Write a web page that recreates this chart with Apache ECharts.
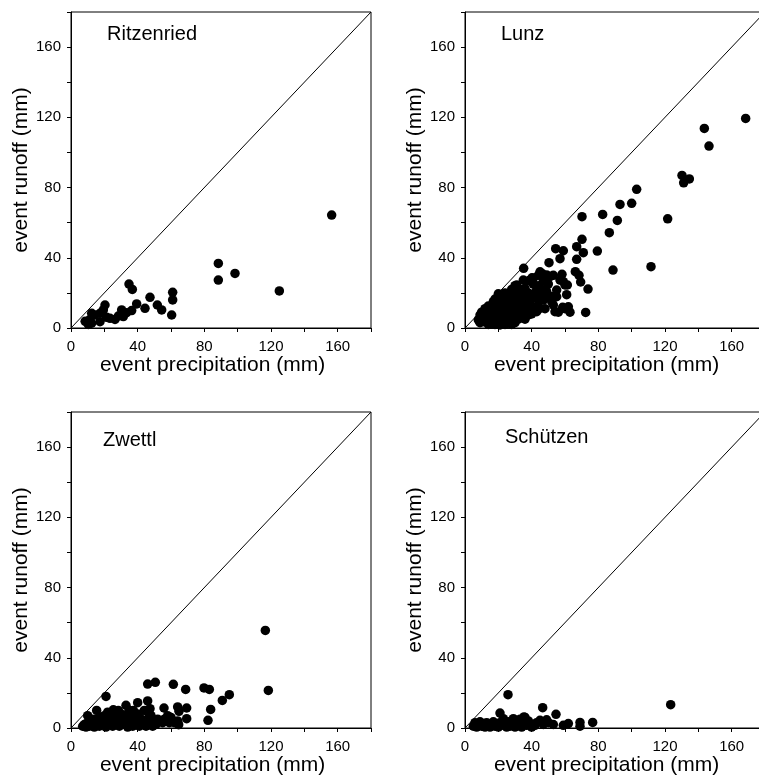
<!DOCTYPE html>
<html>
<head>
<meta charset="utf-8">
<script src="https://cdn.jsdelivr.net/npm/echarts@6/dist/echarts.min.js"></script>
<style>
html,body{margin:0;padding:0;background:#fff;}
#chart{width:759px;height:784px;}
</style>
</head>
<body>
<div id="chart"></div>
<script>
// Panel names
var panelNames = ['Ritzenried', 'Lunz', 'Zwettl', 'Schützen'];
var xAxisTitle = 'event precipitation (mm)';
var yAxisTitle = 'event runoff (mm)';
var axisMin = 0, axisMax = 180, tickStep = 20, labelStep = 40;
// 1:1 reference line endpoints
var oneToOne = [[0, 0], [180, 180]];

// [event precipitation, event runoff]
var ritzenried = [
  [8.5,3.8],[10.4,2],[11.4,4.9],[12.4,2.7],[12.4,8.4],[14.4,7.4],[17.4,3.6],[17.4,8.4],
  [19.4,10.3],[20.4,13.1],[21.4,6.1],[23.4,5.5],[26.4,4.9],[28.4,6.8],[30.4,10.3],[31.4,6.5],
  [33.4,8.7],[34.8,25],[36.8,22],[36.4,9.9],[39.4,13.7],[44.4,11.2],[47.4,17.5],[51.8,13.1],
  [54.4,10.3],[60.4,7.4],[61,16],[61,20.3],[88.4,36.8],[88.4,27.3],[98.4,31.1],[125,21.1],[156.4,64.3]
];

var lunz = [
  [168.4,119.4],[143.6,113.7],[146.4,103.6],[130.2,86.9],[131.2,82.7],[134.6,84.9],[103,79],[100,71],
  [93,70.4],[91.4,61.3],[82.6,64.7],[86.6,54.3],[121.6,62.2],[111.6,34.9],[88.8,33],[79.4,43.8],
  [70.2,63.4],[70.2,50.5],[71,42.9],[67,46.3],[67,39.1],[66.2,32.1],[68.4,30],[69.4,26.2],
  [73.8,22.2],[72.4,8.9],[59,44],[54.4,45.2],[57,39.5],[50.4,37.2],[58.2,30.6],[53,30],
  [59,26.4],[61.4,24.5],[61,19],[62,12.1],[58.6,11.8],[54,9.3],[55,21.6],[55,17.8],
  [51.2,29.4],[46.2,31.1],[44,30],[35.2,34],[35,27.3],[40.2,28.6],[36,22.6],[43,20.7],
  [49,20.7],[47,15.9],[53,13.1],[45,11.2],[43,9.3],[30,24.1],[29,19.8],[31,16.9],
  [39,15],[37,12.1],[33,10.3],[38,7.4],[29,4.6],[26,6.4],[23,18.8],[25,15.9],
  [21,14.1],[17,12.1],[15,9.3],[13,6.4],[9,7.4],[8,4.6],[11,3.6],[19,4.6],
  [21,1.7],[15,2.7],[19,8.4],[23,10.3],[27,11.2],[31,7.4],[18,16.5],[20,19.5],
  [10,5],[12,4],[14,5],[16,3],[18,2],[20,3],[22,4],[24,2],[26,3],[28,2],[30,3],[32,5],
  [34,6],[36,5],[40,8],[42,12],[12,10],[14,12],[16,8],[18,10],[20,11],[22,8],[24,12],
  [26,9],[28,14],[30,12],[32,13],[34,16],[36,18],[38,20],[26,17],[28,22],[24,20],[22,16],
  [18,14],[33,22],[41,25],[44,24],[47,27],[50,25],[52,18],[48,11],[56,9],[60,11],[63,9],
  [10,9],[12,11],[14,12.5],[17,15],[20,17],[21,6],[25,7],[27,5],[29,8],[35,9],[44,16],[39,19],
  [45,32],[41,28.3],[38.4,27],[49,30.2],[57,27.3],[60,24.5],[50,18],[48,22],[52,15],[43,21.6],
  [45,16],[39,16],[37,12],[31,24.5],[32,20],[27,18],[25,13],[23,14],[19,12],[16,11],
  [13,8],[11,6],[9,3],[14,2],[17,5],[20,6],[23,7],[27,9],[30,10],[33,8],[36,11],[40,12],
  [25,10],[22,12],[35,14],[38,17],[42,18],[46,20],[30,15],[27,14],[24,17],[32,17]
];

var zwettl = [
  [116.6,55.6],[118.4,21.4],[95,19],[90.8,15.7],[83.8,10.6],[82.2,4.4],[79.8,22.8],[83,22],
  [68.8,22],[61.4,24.9],[50.6,26],[46,25],[46,15.4],[69.4,11.4],[69.4,5.3],[64,12],
  [64.8,9.5],[55.8,11.4],[64.6,1.9],[40,14.4],[33,12.9],[21,18],[15.4,10],[10,7],
  [25.4,10.4],[28.4,10],[37.4,10],[47.4,11],
  [7,1],[8,2],[9,0.5],[10,3],[11,1],[12,4],[13,2],[14,0.5],[15,5],[16,3],[17,1],[18,6],
  [19,2],[20,4],[21,0.5],[22,7],[23,3],[24,5],[25,1],[26,8],[27,3],[28,6],[29,1],[30,4],
  [31,7],[32,2],[33,5],[34,0.5],[35,3],[36,7],[37,1],[38,5],[39,3],[40,8],[41,1],[42,5],
  [43,3],[44,10],[45,1],[46,5],[47,3],[48,7],[49,1],[50,4],[52,5],[54,4],[56,5],[58,7],
  [60,6],[62,3],[64,4],[22,9],[30,8],[35,10],
  [13,5],[17,4],[20,7],[24,2],[27,6],[31,3],[34,8],[37,4],[41,6],[44,2],[47,8],[51,2],[55,3],[59,3]
];

var schuetzen = [
  [123.4,13.3],[25.8,19],[46.6,11.6],[54.6,7.8],[21,8.5],[76.6,3.2],[69,3.2],[69,1],
  [62,2.5],[59,1.5],[53,2],[49,4.7],[45,4.4],[35.4,6.3],[29,5.3],[23,5.3],[42,1.5],
  [5,1],[6,3],[7,0.5],[8,2],[9,3.5],[10,1],[11,2.5],[12,0.5],[13,3],[14,1.5],[15,0.5],
  [16,2],[17,3.5],[18,1],[19,2.5],[20,0.5],[21,3],[22,1.5],[24,2],[25,0.5],[26,3.5],
  [27,1],[28,2],[30,0.5],[31,3],[32,1.5],[33,2.5],[34,0.5],[36,3],[37,1.5],[38,4],
  [39,2],[40,0.5],[43,3],[47,2],[50,3],[36,6],[33,5]
];

var panelData = [ritzenried, lunz, zwettl, schuetzen];

var FONT = '"Liberation Sans", Arial, sans-serif';
var grids = [
  {left: 71, top: 12, width: 300, height: 316},
  {left: 465, top: 12, width: 300, height: 316},
  {left: 71, top: 412, width: 300, height: 316},
  {left: 465, top: 412, width: 300, height: 316}
];
var titlePos = [
  {left: 107, top: 24},
  {left: 501, top: 24},
  {left: 103, top: 430},
  {left: 505, top: 427}
];

function labelFmt(v) { return (v % labelStep === 0 && v < axisMax) ? String(v) : ''; }

var option = {
  backgroundColor: '#fff',
  animation: false,
  title: panelNames.map(function (n, i) {
    return {text: n, left: titlePos[i].left, top: titlePos[i].top, padding: 0,
      textStyle: {fontFamily: FONT, fontSize: 20, fontWeight: 'normal', color: '#000'}};
  }),
  grid: grids.map(function (g) {
    return {left: g.left, top: g.top, width: g.width, height: g.height,
      show: true, borderColor: '#000', borderWidth: 1, backgroundColor: 'transparent',
      containLabel: false, outerBoundsMode: 'none'};
  }),
  xAxis: grids.map(function (g, i) {
    return {type: 'value', gridIndex: i, min: axisMin, max: axisMax, interval: tickStep,
      name: xAxisTitle, nameLocation: 'middle', nameGap: 26,
      nameTextStyle: {fontFamily: FONT, fontSize: 21, color: '#000', padding: [0, 17, 0, 0]},
      axisLine: {show: true, lineStyle: {color: '#000', width: 1}},
      axisTick: {show: true, length: 4, lineStyle: {color: '#000'}},
      axisLabel: {fontFamily: FONT, fontSize: 15, color: '#000', margin: 11, formatter: labelFmt},
      splitLine: {show: false}};
  }),
  yAxis: grids.map(function (g, i) {
    return {type: 'value', gridIndex: i, min: axisMin, max: axisMax, interval: tickStep,
      name: yAxisTitle, nameLocation: 'middle', nameGap: 35,
      nameTextStyle: {fontFamily: FONT, fontSize: 21, color: '#000'},
      axisLine: {show: true, lineStyle: {color: '#000', width: 1}},
      axisTick: {show: true, length: 4, lineStyle: {color: '#000'}},
      axisLabel: {fontFamily: FONT, fontSize: 15, color: '#000', margin: 10, formatter: labelFmt},
      splitLine: {show: false}};
  }),
  series: []
};

panelData.forEach(function (d, i) {
  option.series.push({type: 'line', xAxisIndex: i, yAxisIndex: i, data: oneToOne,
    symbol: 'none', silent: true, lineStyle: {color: '#000', width: 1}, clip: true});
  option.series.push({type: 'scatter', xAxisIndex: i, yAxisIndex: i, data: d,
    symbol: 'circle', symbolSize: 9.5, itemStyle: {color: '#000', opacity: 1}, clip: true});
});

var chart = echarts.init(document.getElementById('chart'), null, {renderer: 'canvas'});
chart.setOption(option);
</script>
</body>
</html>
